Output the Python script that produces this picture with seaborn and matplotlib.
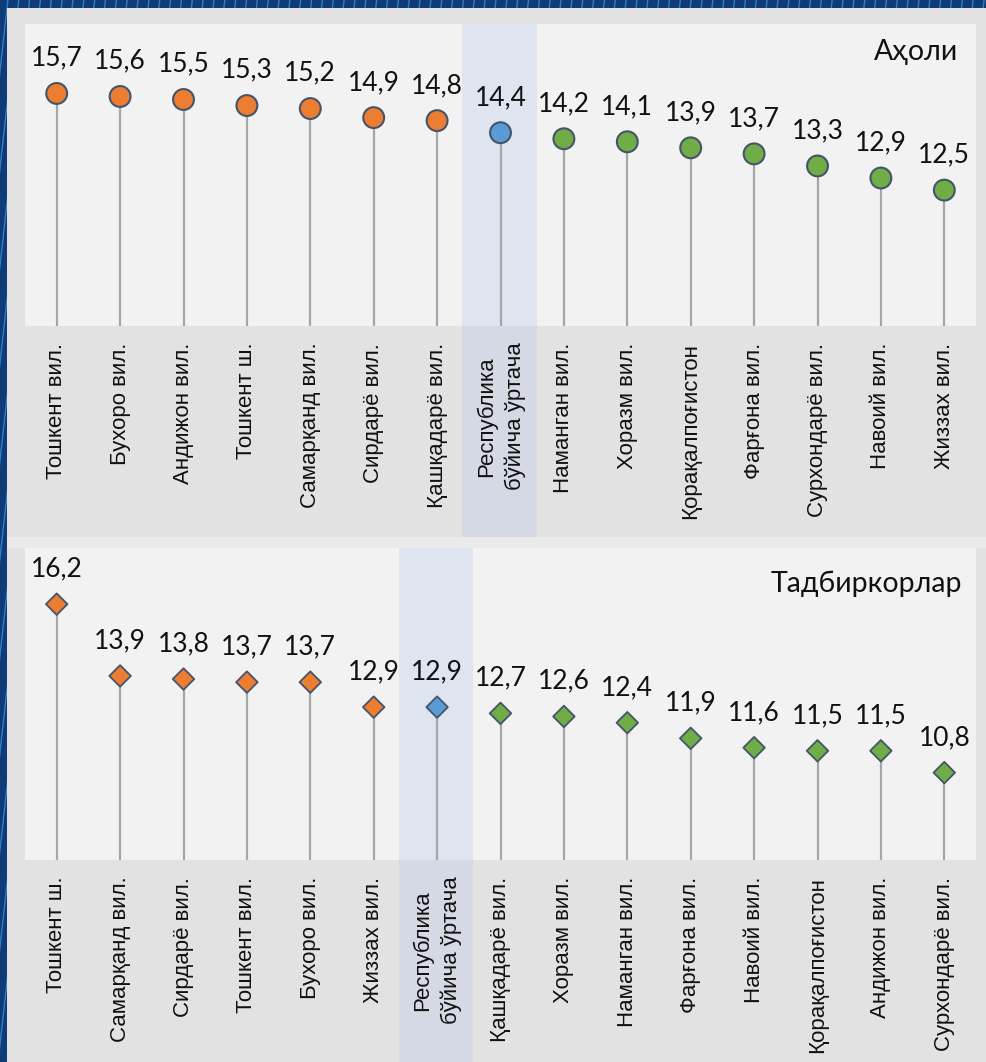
import numpy as np
import pandas as pd
import matplotlib.pyplot as plt
from matplotlib.patches import Rectangle
from matplotlib.lines import Line2D
import seaborn as sns

# --------------------
# Data
# --------------------
regions_pop = ["Тошкент вил.", "Бухоро вил.", "Андижон вил.", "Тошкент ш.",
               "Самарқанд вил.", "Сирдарё вил.", "Қашқадарё вил.",
               "Республика\nбўйича ўртача", "Наманган вил.", "Хоразм вил.",
               "Қорақалпоғистон", "Фарғона вил.", "Сурхондарё вил.",
               "Навоий вил.", "Жиззах вил."]
values_pop = [15.7, 15.6, 15.5, 15.3, 15.2, 14.9, 14.8, 14.4,
              14.2, 14.1, 13.9, 13.7, 13.3, 12.9, 12.5]
groups_pop = ["above"] * 7 + ["avg"] + ["below"] * 7

regions_ent = ["Тошкент ш.", "Самарқанд вил.", "Сирдарё вил.", "Тошкент вил.",
               "Бухоро вил.", "Жиззах вил.", "Республика\nбўйича ўртача",
               "Қашқадарё вил.", "Хоразм вил.", "Наманган вил.", "Фарғона вил.",
               "Навоий вил.", "Қорақалпоғистон", "Андижон вил.", "Сурхондарё вил."]
values_ent = [16.2, 13.9, 13.8, 13.7, 13.7, 12.9, 12.9,
              12.7, 12.6, 12.4, 11.9, 11.6, 11.5, 11.5, 10.8]
groups_ent = ["above"] * 6 + ["avg"] + ["below"] * 8

palette = {"above": "#ED7D31", "avg": "#5B9BD5", "below": "#70AD47"}

sns.set_theme(style="white")
plt.rcParams["font.family"] = ["Liberation Sans", "DejaVu Sans"]
num_font = ["Lato", "Noto Sans", "DejaVu Sans"]

W, H = 986, 1062
fig = plt.figure(figsize=(W / 100, H / 100), dpi=100)
fig.patch.set_facecolor("#0F3C78")

# striped blue background (only visible on the top and left edges)
for x0 in np.arange(-0.2, 1.05, 0.011):
    fig.add_artist(Line2D([x0, x0 + 0.12], [0, 1], transform=fig.transFigure,
                          color="#3A9FE0", lw=1.0, alpha=0.7, zorder=-3))
fig.add_artist(Rectangle((7 / W, 0), 1, 1 - 8 / H, transform=fig.transFigure,
                         facecolor="#E2E2E2", edgecolor="none", zorder=-2))
fig.add_artist(Rectangle((7 / W, (H - 548) / H), 1, 11 / H, transform=fig.transFigure,
                         facecolor="#EAEAEA", edgecolor="none", zorder=-1))


def lollipop(ax, regions, values, groups, marker, size, lw, title, tx, ty, band_low):
    df = pd.DataFrame({"pos": np.arange(len(regions)), "value": values, "group": groups})
    ax.set_zorder(1)
    ax.set_facecolor("#F2F2F2")
    ax.set_xlim(-0.5, len(regions) - 0.5)
    ax.set_ylim(8, 18)
    # highlight band for the republic average, extends into the label area
    avg_pos = groups.index("avg")
    ax.add_patch(Rectangle((avg_pos - 0.6, band_low), 1.17, 1 - band_low,
                           transform=ax.get_xaxis_transform(), facecolor="#B4C7E7",
                           alpha=0.3, edgecolor="none", zorder=0.5, clip_on=False))
    ax.vlines(df["pos"], 8, df["value"], color="#A6A6A6", lw=1.6, zorder=2)
    sns.scatterplot(data=df, x="pos", y="value", hue="group", palette=palette,
                    marker=marker, s=size, edgecolor="#44546A", linewidth=lw,
                    legend=False, ax=ax, zorder=3)
    for p, v in zip(df["pos"], df["value"]):
        ax.annotate(f"{v:.1f}".replace(".", ","), (p, v), xytext=(0, 20),
                    textcoords="offset points", ha="center", va="baseline",
                    fontsize=19, family=num_font, color="#111111")
    ax.text(tx, ty, title, transform=ax.transAxes, ha="right", va="baseline",
            fontsize=20.5, family=num_font, color="#111111")
    ax.set_xticks(df["pos"])
    ax.set_xticklabels(regions, rotation=90, fontsize=16, color="#111111")
    for lbl in ax.get_xticklabels():
        lbl.set_linespacing(1.45)
    ax.tick_params(axis="x", length=0, pad=12)
    ax.set_yticks([])
    ax.set_xlabel("")
    ax.set_ylabel("")
    for s in ax.spines.values():
        s.set_visible(False)


ax1 = fig.add_axes([25 / W, (H - 326) / H, 951 / W, 302 / H])
lollipop(ax1, regions_pop, values_pop, groups_pop, "o", 225, 1.5,
         "Аҳоли", 0.981, 0.881, (326 - 537) / 302)

ax2 = fig.add_axes([25 / W, (H - 860) / H, 951 / W, 312 / H])
lollipop(ax2, regions_ent, values_ent, groups_ent, "D", 120, 1.3,
         "Тадбиркорлар", 0.985, 0.859, (860 - 1062) / 312)

fig.savefig("out.png", dpi=100, facecolor=fig.get_facecolor())
